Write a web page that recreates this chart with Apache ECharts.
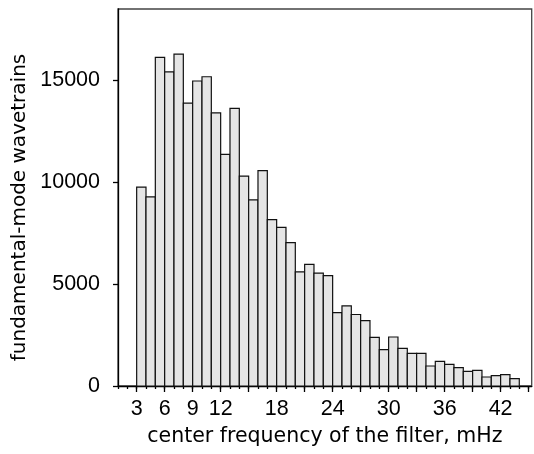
<!DOCTYPE html>
<html>
<head>
<meta charset="utf-8">
<script src="https://cdn.jsdelivr.net/npm/echarts@6/dist/echarts.min.js"></script>
<style>
html,body{margin:0;padding:0;background:#fff;}
#chart{width:534px;height:454px;}
</style>
</head>
<body>
<div id="chart"></div>
<script>
// center frequency (mHz) of each bin's left edge
var frequencies = [3,4,5,6,7,8,9,10,11,12,13,14,15,16,17,18,19,20,21,22,23,24,25,26,27,28,29,30,31,32,33,34,35,36,37,38,39,40,41,42,43];
// number of fundamental-mode wavetrains
var counts = [9750,9270,16110,15400,16270,13870,14950,15160,13390,11350,13610,10290,9120,10555,8155,7780,7026,5595,5964,5530,5409,3600,3930,3505,3203,2386,1781,2402,1846,1601,1601,980,1209,1062,899,719,768,441,507,556,359];
var xLabelValues = [3,6,9,12,18,24,30,36,42];
var xMajorTicks = [3,6,9,12,15,18,21,24,27,30,33,36,39,42,45];
var xMinorTicks = [1,2,3,4,5,6,7,8,9,10,11,12,13,14,15,16,17,18,19,20,21,22,23,24,25,26,27,28,29,30,31,32,33,34,35,36,37,38,39,40,41,42,43,44,45];
var yTickValues = [0,5000,10000,15000];

var data = frequencies.map(function(f, i){ return [f, counts[i]]; });
var FONT = "'Liberation Sans', Arial, Helvetica, sans-serif";
var TITLE_FONT = "'DejaVu Sans', 'Liberation Sans', sans-serif";
function plain(v){ return String(v); }

var chart = echarts.init(document.getElementById('chart'), null, {renderer:'canvas'});
chart.setOption({
  animation: false,
  backgroundColor: '#ffffff',
  grid: {left: 118, top: 9, width: 413.7, height: 377, show: true, borderColor: '#444', borderWidth: 1.3, backgroundColor: 'transparent'},
  xAxis: [{
    type: 'value', min: 1, max: 45.33, position: 'bottom',
    name: 'center frequency of the filter, mHz', nameLocation: 'middle', nameGap: 51,
    nameTextStyle: {fontFamily: TITLE_FONT, fontSize: 20.5, color: '#000', verticalAlign: 'middle'},
    axisLine: {show: true, lineStyle: {color: '#000', width: 1.3}},
    axisTick: {show: true, length: 6, customValues: xMajorTicks, lineStyle: {color: '#000', width: 1.3}},
    axisLabel: {show: true, customValues: xLabelValues, formatter: plain, margin: 12, fontFamily: FONT, fontSize: 21.5, color: '#000'},
    splitLine: {show: false}
  }, {
    type: 'value', min: 1, max: 45.33, position: 'top', offset: -377,
    axisLine: {show: false},
    axisTick: {show: true, inside: true, length: 3, customValues: xMinorTicks, lineStyle: {color: '#000', width: 1.3}},
    axisLabel: {show: false},
    splitLine: {show: false}
  }],
  yAxis: {
    type: 'value', min: 0, max: 18480,
    name: 'fundamental-mode wavetrains', nameLocation: 'middle', nameGap: 90,
    nameTextStyle: {fontFamily: TITLE_FONT, fontSize: 20, color: '#000', verticalAlign: 'middle', padding: [0, 20, 0, 0]},
    axisLine: {show: true, lineStyle: {color: '#000', width: 1.3}},
    axisTick: {show: true, length: 5, customValues: yTickValues, lineStyle: {color: '#000', width: 1.3}},
    axisLabel: {show: true, customValues: yTickValues, formatter: plain, margin: 18, fontFamily: FONT, fontSize: 21.5, color: '#000'},
    splitLine: {show: false}
  },
  series: [{
    type: 'custom',
    xAxisIndex: 0,
    data: data,
    renderItem: function(params, api){
      var f = api.value(0), v = api.value(1);
      var p0 = api.coord([f, 0]);
      var p1 = api.coord([f + 1, v]);
      return {
        type: 'rect',
        shape: {x: p0[0], y: p1[1], width: p1[0] - p0[0], height: p0[1] - p1[1]},
        style: {fill: '#e5e5e5', stroke: '#111', lineWidth: 1.2}
      };
    }
  }]
});
</script>
</body>
</html>
